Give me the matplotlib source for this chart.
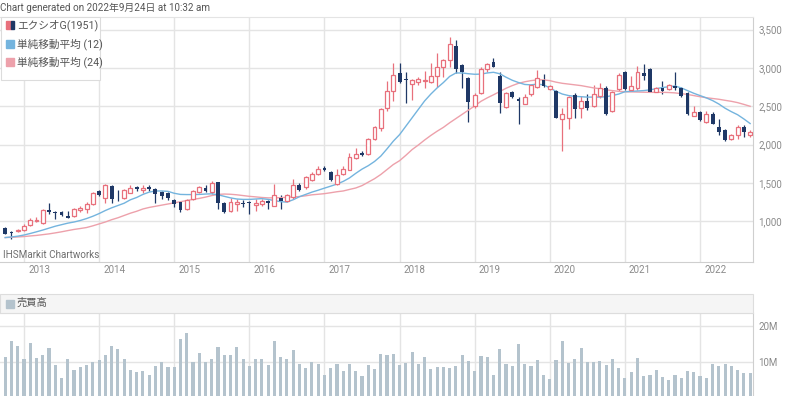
import matplotlib.pyplot as plt
import matplotlib.transforms as mtransforms
from matplotlib.patches import Rectangle
import numpy as np

plt.rcParams['font.family'] = ['Roboto', 'Noto Sans CJK JP', 'DejaVu Sans']

# monthly candles, Oct 2012 .. Sep 2022
opens = [915, 855, 868, 885, 945, 1000, 980, 1150, 1122, 1125,
         1073, 1073, 1150, 1158, 1223, 1393, 1308, 1466, 1320, 1308,
         1372, 1442, 1408, 1442, 1416, 1386, 1373, 1277, 1246, 1155,
         1286, 1377, 1429, 1386, 1508, 1242, 1138, 1220, 1242, 1246,
         1212, 1228, 1259, 1202, 1302, 1259, 1311, 1477, 1442, 1543,
         1622, 1696, 1644, 1491, 1622, 1674, 1827, 1893, 1871, 2077,
         2212, 2484, 2700, 2930, 2857, 2791, 2822, 2831, 2813, 2900,
         3009, 3105, 3287, 3039, 2874, 2504, 2670, 2983, 3083, 2900,
         2487, 2691, 2600, 2534, 2655, 2750, 2849, 2728, 2706, 2332,
         2353, 2642, 2474, 2569, 2504, 2633, 2741, 2439, 2732, 2948,
         2710, 2741, 2940, 2991, 2690, 2733, 2724, 2767, 2733, 2672,
         2379, 2431, 2293, 2401, 2228, 2185, 2069, 2121, 2228, 2121]
highs = [930, 870, 900, 966, 1043, 1050, 1158, 1244, 1130, 1137,
         1137, 1171, 1193, 1257, 1381, 1406, 1492, 1479, 1406, 1415,
         1479, 1460, 1473, 1473, 1429, 1399, 1386, 1290, 1255, 1286,
         1408, 1460, 1473, 1529, 1516, 1255, 1299, 1286, 1277, 1268,
         1286, 1289, 1272, 1486, 1337, 1359, 1552, 1499, 1587, 1639,
         1718, 1727, 1652, 1687, 1718, 1893, 1959, 1915, 2090, 2243,
         2484, 2834, 3065, 3061, 2952, 2852, 2887, 2965, 3070, 3200,
         3113, 3400, 3366, 3048, 2887, 2670, 3009, 3070, 3126, 2952,
         2691, 2704, 2620, 2655, 2793, 2969, 2926, 2784, 2719, 2482,
         2633, 2668, 2633, 2655, 2784, 2806, 2763, 2698, 2935, 2956,
         2900, 3030, 3050, 3004, 2746, 2832, 2789, 2948, 2746, 2681,
         2509, 2444, 2444, 2422, 2328, 2198, 2142, 2250, 2250, 2185]
lows = [830, 762, 860, 877, 937, 990, 966, 1095, 1030, 1073,
        1040, 1060, 1116, 1107, 1210, 1330, 1244, 1244, 1265, 1295,
        1364, 1399, 1364, 1399, 1233, 1286, 1277, 1190, 1125, 1146,
        1277, 1364, 1386, 1355, 1155, 1103, 1116, 1138, 1190, 1094,
        1138, 1193, 1158, 1193, 1158, 1246, 1294, 1390, 1421, 1521,
        1609, 1652, 1521, 1477, 1609, 1666, 1814, 1849, 1858, 2059,
        2178, 2440, 2565, 2800, 2539, 2583, 2778, 2735, 2800, 2757,
        2887, 3009, 2930, 2735, 2300, 2474, 2661, 2952, 3009, 2409,
        2474, 2604, 2270, 2525, 2633, 2741, 2750, 2719, 2344, 1913,
        2202, 2344, 2353, 2448, 2491, 2612, 2388, 2431, 2706, 2719,
        2700, 2719, 2845, 2681, 2681, 2660, 2716, 2716, 2621, 2392,
        2371, 2306, 2284, 2263, 2129, 2043, 2056, 2078, 2099, 2099]
closes = [838, 840, 890, 937, 1010, 1012, 1150, 1116, 1112, 1082,
          1048, 1158, 1167, 1231, 1372, 1338, 1470, 1295, 1312, 1402,
          1436, 1420, 1429, 1420, 1351, 1329, 1299, 1220, 1146, 1277,
          1399, 1451, 1399, 1494, 1233, 1116, 1255, 1246, 1225, 1233,
          1242, 1259, 1237, 1337, 1259, 1337, 1477, 1412, 1574, 1617,
          1683, 1666, 1534, 1609, 1683, 1836, 1884, 1858, 2068, 2230,
          2462, 2703, 2915, 2813, 2844, 2844, 2852, 2844, 2896, 3009,
          3105, 3309, 2983, 2952, 2561, 2648, 2983, 3048, 3017, 2539,
          2678, 2626, 2565, 2620, 2775, 2870, 2763, 2763, 2353, 2405,
          2620, 2469, 2569, 2482, 2663, 2741, 2396, 2689, 2913, 2728,
          2760, 2950, 2893, 2690, 2733, 2703, 2776, 2733, 2629, 2401,
          2431, 2315, 2401, 2272, 2164, 2065, 2129, 2228, 2164, 2164]

ma12 = [787, 795, 805, 820, 840, 862, 885, 910, 935, 955,
        975, 990, 1010, 1035, 1065, 1100, 1140, 1175, 1205, 1235,
        1280, 1310, 1350, 1380, 1395, 1395, 1390, 1365, 1350, 1348,
        1348, 1350, 1355, 1358, 1345, 1325, 1305, 1290, 1285, 1285,
        1290, 1295, 1285, 1270, 1255, 1250, 1280, 1320, 1350, 1380,
        1405, 1432, 1458, 1485, 1520, 1565, 1625, 1680, 1725, 1780,
        1850, 1945, 2045, 2130, 2240, 2350, 2460, 2570, 2660, 2740,
        2810, 2890, 2935, 2935, 2925, 2918, 2920, 2935, 2944, 2925,
        2880, 2840, 2810, 2785, 2780, 2790, 2780, 2740, 2695, 2660,
        2640, 2630, 2625, 2620, 2620, 2620, 2625, 2640, 2660, 2690,
        2695, 2700, 2705, 2715, 2730, 2745, 2755, 2765, 2740, 2705,
        2670, 2640, 2610, 2575, 2530, 2475, 2430, 2390, 2335, 2275]
ma24 = [787, 790, 795, 800, 808, 815, 825, 835, 848, 862,
        878, 893, 905, 918, 940, 965, 990, 1020, 1045, 1075,
        1105, 1130, 1160, 1180, 1195, 1210, 1225, 1240, 1255, 1270,
        1285, 1298, 1315, 1335, 1350, 1355, 1352, 1345, 1335, 1325,
        1318, 1310, 1305, 1305, 1308, 1312, 1318, 1322, 1332, 1345,
        1352, 1360, 1372, 1385, 1395, 1415, 1434, 1465, 1510, 1555,
        1610, 1675, 1740, 1790, 1860, 1935, 1995, 2060, 2120, 2175,
        2225, 2285, 2340, 2395, 2450, 2505, 2565, 2610, 2650, 2692,
        2735, 2770, 2800, 2820, 2835, 2845, 2845, 2835, 2815, 2800,
        2790, 2780, 2770, 2755, 2740, 2730, 2715, 2705, 2695, 2690,
        2688, 2686, 2684, 2682, 2682, 2682, 2680, 2675, 2665, 2655,
        2640, 2625, 2612, 2602, 2592, 2578, 2565, 2548, 2525, 2500]

# volume in millions of shares
volume = [11.4, 15.8, 14.4, 10.9, 15.3, 11.2, 11.9, 13.9, 9.1, 5.6,
          10.9, 7.9, 8.6, 9.1, 10.0, 10.5, 11.9, 14.4, 13.7, 10.9,
          7.7, 7.1, 7.5, 6.5, 8.8, 10.1, 8.6, 8.6, 16.4, 18.1,
          10.1, 12.6, 10.1, 10.7, 14.2, 11.8, 11.8, 14.2, 10.9, 8.8,
          10.7, 10.9, 9.1, 15.8, 11.4, 10.7, 13.3, 9.3, 8.4, 10.1,
          9.5, 6.5, 8.4, 9.3, 7.4, 9.3, 7.6, 6.2, 9.1, 8.1,
          12.1, 11.9, 12.3, 9.1, 9.7, 12.8, 9.3, 11.4, 8.1, 8.6,
          8.6, 8.4, 8.8, 11.9, 10.2, 7.4, 11.6, 11.4, 6.5, 13.5,
          9.3, 8.9, 14.9, 9.5, 8.9, 10.5, 6.5, 5.4, 10.5, 15.8,
          9.7, 10.7, 13.9, 10.1, 10.1, 10.3, 9.1, 10.9, 8.2, 5.5,
          7.1, 11.1, 6.2, 6.5, 7.9, 5.9, 5.0, 6.5, 5.6, 7.4,
          7.1, 6.2, 5.6, 9.5, 8.9, 9.3, 8.8, 7.7, 6.8, 6.8]

years = list(range(2013, 2023))
price_ticks = [1000, 1500, 2000, 2500, 3000, 3500]

up_col = '#e8707c'
dn_col = '#1f3866'
blue = '#74b4de'
pink = '#eda1ab'
grid_col = '#e4e4e4'
text_col = '#8a8a8a'

W, H = 800, 396


def fx(px):
    return px / W


def fy(py):
    return 1 - py / H


fig = plt.figure(figsize=(8, 3.96), dpi=100)

x = np.arange(len(closes))
o = np.array(opens)
c = np.array(closes)
up = c >= o
jan = [3 + 12 * k for k in range(len(years))]

# price panel
ax = fig.add_axes([0, fy(262), fx(753), (262 - 16.5) / H])
ax.set_xlim(-0.83, 119.46)
ax.set_ylim(468, 3672)

ax.vlines(x, lows, highs, colors=[up_col if u else dn_col for u in up],
          linewidth=0.9, zorder=2)
ax.plot(x, ma24, color=pink, linewidth=1.0, zorder=2.5)
ax.plot(x, ma12, color=blue, linewidth=1.0, zorder=2.5)
ax.bar(x[up], np.maximum(c - o, 6)[up], bottom=o[up], width=0.62,
       facecolor='white', edgecolor=up_col, linewidth=0.9, zorder=3)
ax.bar(x[~up], np.maximum(o - c, 6)[~up], bottom=c[~up], width=0.62,
       color=dn_col, linewidth=0, zorder=3)

ax.set_xticks(jan)
ax.set_xticklabels([])
ax.yaxis.tick_right()
ax.set_yticks(price_ticks)
ax.set_yticklabels([f'{v:,}' for v in price_ticks])
ax.tick_params(length=0, labelsize=7, labelcolor=text_col, pad=4)
ax.grid(color=grid_col, linewidth=1)
ax.set_axisbelow(True)
ax.spines['left'].set_visible(False)
ax.spines['top'].set_color(grid_col)
ax.spines['right'].set_color('#cfcfcf')
ax.spines['bottom'].set_color('#cfcfcf')

trans = mtransforms.blended_transform_factory(ax.transData, ax.transAxes)
for j, yr in zip(jan, years):
    ax.text(j + 0.65, -0.033, str(yr), transform=trans, ha='left',
            va='center', fontsize=7, color=text_col)

ax.text(fx(3), fy(255), 'IHSMarkit Chartworks', transform=fig.transFigure,
        ha='left', va='center', fontsize=7.1, color='#6f6f6f')

# legend box
fig.patches.append(Rectangle((fx(1), fy(80)), fx(99), (80 - 17) / H,
                             transform=fig.transFigure, facecolor='white',
                             edgecolor='#dcdcdc', linewidth=0.8, zorder=5))
sq = 8
for k, (label, cols) in enumerate([('エクシオG(1951)', [up_col, dn_col]),
                                    ('単純移動平均 (12)', [blue]),
                                    ('単純移動平均 (24)', [pink])]):
    yc = 25 + 18.7 * k
    if len(cols) == 2:
        fig.patches.append(Rectangle((fx(5.5), fy(yc + sq / 2)), fx(5), sq / H,
                                     transform=fig.transFigure, color=cols[0], zorder=6))
        fig.patches.append(Rectangle((fx(10.5), fy(yc + sq / 2)), fx(3), sq / H,
                                     transform=fig.transFigure, color=cols[1], zorder=6))
    else:
        fig.patches.append(Rectangle((fx(5.5), fy(yc + sq / 2)), fx(sq), sq / H,
                                     transform=fig.transFigure, color=cols[0], zorder=6))
    fig.text(fx(17), fy(yc), label, ha='left', va='center', fontsize=7.7,
             color='#555555', zorder=7)

fig.text(fx(0), fy(8), 'Chart generated on 2022年9月24日 at 10:32 am',
         ha='left', va='center', fontsize=7.1, color='#555555')

# volume header band
fig.patches.append(Rectangle((0, fy(313)), fx(753), (313 - 294) / H,
                             transform=fig.transFigure, facecolor='#f5f5f5',
                             edgecolor='#dddddd', linewidth=0.8))
fig.patches.append(Rectangle((fx(5.5), fy(307.5)), fx(8), 8 / H,
                             transform=fig.transFigure, color='#b4c3cd'))
fig.text(fx(17), fy(303), '売買高', ha='left', va='center', fontsize=7.4,
         color='#555555')

# volume panel
vax = fig.add_axes([0, 0, fx(753), (396 - 313) / H])
vax.set_xlim(-0.83, 119.46)
vax.set_ylim(0.55, 23.6)
vax.bar(x, volume, width=0.5, color='#b4c3cd', zorder=3)
vax.set_xticks(jan)
vax.set_xticklabels([])
vax.yaxis.tick_right()
vax.set_yticks([10, 20])
vax.set_yticklabels(['10M', '20M'])
vax.tick_params(length=0, labelsize=7, labelcolor=text_col, pad=4)
vax.grid(color=grid_col, linewidth=1)
vax.set_axisbelow(True)
vax.spines['left'].set_visible(False)
vax.spines['bottom'].set_visible(False)
vax.spines['top'].set_color('#dddddd')
vax.spines['right'].set_color('#cfcfcf')

fig.savefig('out.png', dpi=100)
